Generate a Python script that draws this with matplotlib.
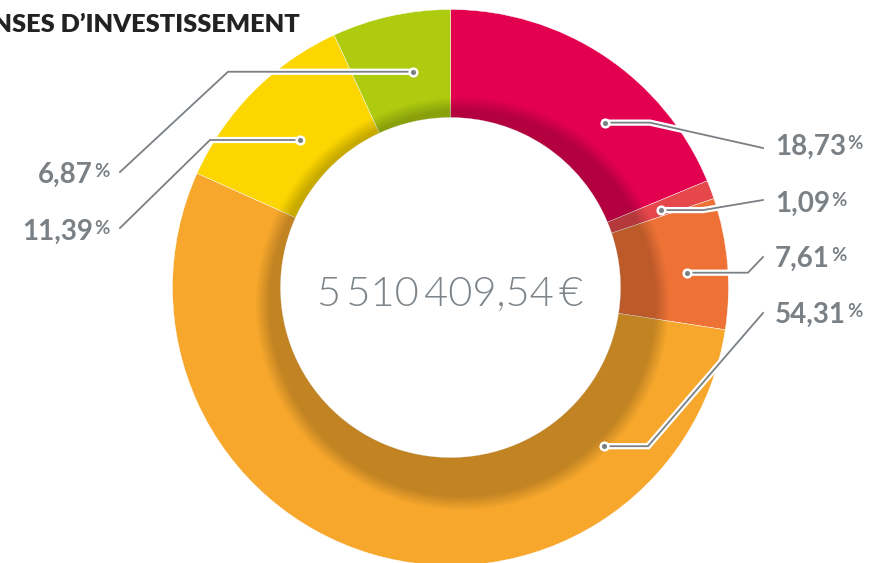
import numpy as np
import matplotlib
matplotlib.use("Agg")
import matplotlib.pyplot as plt
from matplotlib.patches import Wedge
import matplotlib.patheffects as pe

# data
labels = ["18,73", "1,09", "7,61", "54,31", "11,39", "6,87"]
shares = [18.73, 1.09, 7.61, 54.31, 11.39, 6.87]
colors = ["#E3004F", "#E5474B", "#EE7236", "#F6A72C", "#FCD600", "#AECB0F"]
total_text = "5\u2009510\u2009409,54\u2009€"
title = "DÉPENSES D’INVESTISSEMENT"

W, H = 873, 563
cx, cy = 450.5, H - 287.5
R_out, R_in = 278, 170
grey = "#7B8085"

fig = plt.figure(figsize=(W / 100, H / 100), dpi=100)
ax = fig.add_axes([0, 0, 1, 1])

wedges, _ = ax.pie(shares, colors=colors, startangle=90, counterclock=False,
                   radius=R_out, center=(cx, cy),
                   wedgeprops=dict(width=R_out - R_in, edgecolor="white", linewidth=0.3))
ax.set_xlim(0, W)
ax.set_ylim(0, H)
ax.axis("off")

# inner shadow (offset soft circle clipped to the ring)
yy, xx = np.mgrid[0:H, 0:W] + 0.5
d = np.hypot(xx - (cx + 12), yy - (cy - 16))
alpha = 0.21 * np.clip((200 - d) / 14 + 0.5, 0, 1)
rgba = np.zeros((H, W, 4))
rgba[..., 3] = alpha
im = ax.imshow(rgba, extent=(0, W, 0, H), origin="lower", zorder=2,
               interpolation="bilinear")
ring = Wedge((cx, cy), R_out, 0, 360, width=R_out - R_in, transform=ax.transData)
im.set_clip_path(ring)

# leader lines: position along wedge (clockwise), dot radius, elbow x, end point (px from top)
dot_frac = [0.64, 0.6, 0.55, 0.19, 0.49, 0.6]
dot_r = [226, 224, 237, 221, 211, 219]
elbow_x = [650, 703, 748, 648, 210, 228]
end_pts = [(763, 148), (763, 200), (763, 257), (763, 313), (120, 228), (120, 172)]
text_pos = [(775, 155), (775, 212), (775, 267), (775, 323), (93, 240), (93, 183)]

halo = [pe.Stroke(linewidth=4.5, foreground="white"), pe.Normal()]
for i, w in enumerate(wedges):
    a = np.deg2rad(w.theta2 - dot_frac[i] * (w.theta2 - w.theta1))
    dx, dy = cx + dot_r[i] * np.cos(a), cy + dot_r[i] * np.sin(a)
    ex, ey = end_pts[i]
    ax.plot([dx, elbow_x[i], ex], [dy, dy, H - ey], color=grey, lw=1.3,
            solid_joinstyle="miter", path_effects=halo, zorder=3)
    ax.plot(dx, dy, "o", ms=5.5, mfc=grey, mec="white", mew=1.8, zorder=4)

    tx, ty = text_pos[i]
    right = tx > cx
    t = ax.text(tx, H - ty, labels[i], ha="left" if right else "right",
                va="baseline", fontsize=20, fontweight="bold", color=grey,
                family="Lato", zorder=5)
    ax.annotate("%", xy=(1, 1), xycoords=t, xytext=(1, -0.5),
                textcoords="offset points", ha="left", va="top",
                fontsize=13.5, fontweight="bold", color=grey, family="Lato")

ax.text(cx, H - 306, total_text, ha="center", va="baseline", fontsize=30,
        fontweight=300, color="#7E858A", family=["Lato", "DejaVu Sans"])

ax.text(300, H - 32, title, ha="right", va="baseline", fontsize=18.3,
        fontweight="heavy", color="#222222", family="Lato")

fig.savefig("out.png", dpi=100)
